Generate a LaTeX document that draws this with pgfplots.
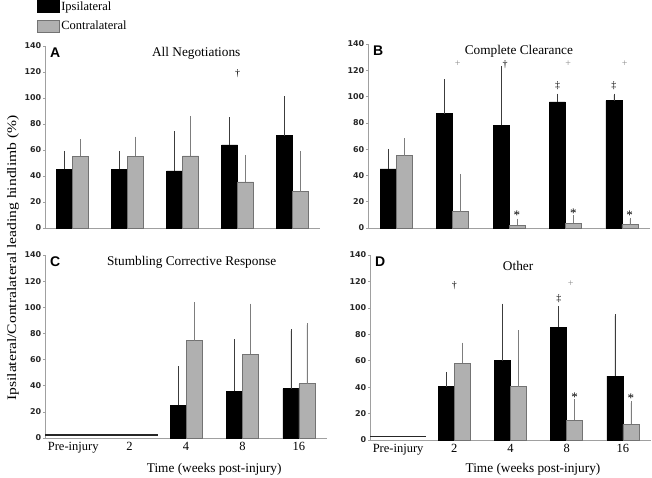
\documentclass[border=0pt]{standalone}
\usepackage{pgfplots}
\pgfplotsset{compat=1.18}
\usepackage{pgfplotstable}
\usepackage{graphicx}
\usepackage{fontspec}
\setmainfont{Liberation Serif}
\newfontfamily\sansb{Liberation Sans}
\newfontfamily\dejab{DejaVu Sans}
\definecolor{bargray}{RGB}{176,176,176}
\definecolor{edgegray}{RGB}{115,115,115}
\definecolor{axgray}{RGB}{160,160,160}
\definecolor{errblack}{RGB}{60,60,60}
\definecolor{errgray}{RGB}{125,125,125}
\definecolor{plusgray}{RGB}{140,140,140}

% x, ipsilateral mean, error, contralateral mean, error
\pgfplotstableread{
x i ie c ce
0 45 13 55 12
1 45 13 55 14
2 44 29 55.5 29.5
3 64 20 35.5 19.5
4 71 29 28 30
}\dataA
\pgfplotstableread{
x i ie c ce
0 45 14 55 12
1 87 25 12.5 27.5
2 78 44 2 4
3 96 5 3.5 5
4 97 4 2.5 4
}\dataB
\pgfplotstableread{
x i ie c ce
2 25 28.5 74.5 28
3 35.6 38.7 64 37.5
4 37.7 44.3 41.5 45
}\dataC
\pgfplotstableread{
x i ie c ce
1 40.3 10 58 14.4
2 60 42 40.3 41.7
3 85.3 14.7 15 14.5
4 48.4 45.6 11.9 16.1
}\dataD

\pgfplotsset{
 base/.style={
  anchor=south west,
  scale only axis,
  ymin=0, ymax=140,
  xmin=-0.5, xmax=4.5,
  clip=false,
 },
 panel/.style={
  base,
  ytick={0,20,...,140},
  axis x line*=bottom, axis y line*=left,
  axis line style={axgray, line width=0.7pt, -},
  tick align=outside,
  major tick length=2pt,
  xtick style={draw=none},
  ytick style={axgray, line width=0.5pt},
  yticklabel style={font=\dejab\bfseries\fontsize{8}{9}\selectfont, text=black!85, inner sep=1.5pt},
  xticklabel style={font=\fontsize{12.5}{14}\selectfont, inner sep=2pt},
  /pgf/number format/assume math mode=true,
  ybar=0pt, bar width=16pt,
 },
 ipsi/.style={fill=black, draw=black, line width=0.5pt,
   error bars/y dir=plus, error bars/y explicit,
   error bars/error bar style={line width=0.6pt, errblack},
   error bars/error mark options={line width=0.6pt, errblack, mark size=1.6pt}},
 contra/.style={fill=bargray, draw=edgegray, line width=0.6pt,
   error bars/y dir=plus, error bars/y explicit,
   error bars/error bar style={line width=0.6pt, errgray},
   error bars/error mark options={line width=0.6pt, errgray, mark size=1.6pt}},
}
\tikzset{
 letter/.style={font=\sansb\bfseries\fontsize{14}{15}\selectfont, anchor=north west, inner sep=0pt},
 ptitle/.style={font=\fontsize{13.3}{15}\selectfont, anchor=north, inner sep=0pt},
 sig/.style={font=\fontsize{10}{11}\selectfont, inner sep=0pt},
 star/.style={font=\fontsize{13}{14}\selectfont, inner sep=0pt},
 xlab/.style={font=\fontsize{13.3}{15}\selectfont, inner sep=0pt},
}

\begin{document}
\begin{tikzpicture}
\useasboundingbox (0,0) rectangle (652pt,478pt);

% ---------- Panel A ----------
\begin{axis}[panel, at={(45pt,250pt)}, width=275pt, height=182pt, xtick=\empty]
\addplot[ipsi] table[x=x, y=i, y error=ie] {\dataA};
\addplot[contra] table[x=x, y=c, y error=ce] {\dataA};
\node[letter] at (rel axis cs:0,1) [xshift=5pt, yshift=-2pt] {A};
\node[ptitle] at (rel axis cs:0.55,1) [yshift=-1pt] {All Negotiations};
\node[sig] at (axis cs:3,119) {\textdagger};
\end{axis}
% legend (overlay axis)
\begin{axis}[base, at={(45pt,250pt)}, width=275pt, height=182pt, hide axis,
  legend image code/.code={\draw[#1, line width=0.8pt] (0pt,-6.2pt) rectangle (22pt,6.2pt);},
  legend style={at={(rel axis cs:0,1)}, anchor=north west, xshift=-8pt, yshift=46pt,
    draw=none, fill=none, inner sep=0pt, outer sep=0pt, row sep=6.5pt,
    font=\fontsize{12.5}{13}\selectfont, nodes={inner sep=1.5pt}},
  legend cell align=left]
\addlegendimage{fill=black, draw=black}
\addlegendentry{Ipsilateral}
\addlegendimage{fill=bargray, draw=edgegray}
\addlegendentry{Contralateral}
\end{axis}

% ---------- Panel B ----------
\begin{axis}[panel, at={(368pt,250pt)}, width=282pt, height=184pt, xtick=\empty]
\addplot[ipsi] table[x=x, y=i, y error=ie] {\dataB};
\addplot[contra] table[x=x, y=c, y error=ce] {\dataB};
\node[letter] at (rel axis cs:0,1) [xshift=5pt, yshift=-2pt] {B};
\node[ptitle] at (rel axis cs:0.535,1) [yshift=-1pt] {Complete Clearance};
\node[sig, text=plusgray] at (axis cs:1.09,125) {+};
\node[sig] at (axis cs:1.93,124) {\textdagger};
\node[sig, text=plusgray] at (axis cs:3.05,125) {+};
\node[sig, text=plusgray] at (axis cs:4.05,125) {+};
\node[sig] at (axis cs:2.86,108) {\textdaggerdbl};
\node[sig] at (axis cs:3.86,108) {\textdaggerdbl};
\node[star] at (axis cs:2.14,10) {*};
\node[star] at (axis cs:3.14,11) {*};
\node[star] at (axis cs:4.14,10) {*};
\end{axis}

% ---------- Panel C ----------
\begin{axis}[panel, at={(45pt,40pt)}, width=282pt, height=183pt,
  xtick={0,...,4}, xticklabels={Pre-injury,2,4,8,16}]
\addplot[ipsi] table[x=x, y=i, y error=ie] {\dataC};
\addplot[contra] table[x=x, y=c, y error=ce] {\dataC};
\node[letter] at (rel axis cs:0,1) [xshift=5pt, yshift=-2pt] {C};
\node[ptitle] at (rel axis cs:0.52,1) [yshift=-1pt] {Stumbling Corrective Response};
\node[xlab] at (rel axis cs:0.6,0) [yshift=-31pt] {Time (weeks post-injury)};
\end{axis}
\begin{axis}[base, at={(45pt,40pt)}, width=282pt, height=183pt, hide axis]
\addplot[black!85, line width=1.6pt] coordinates {(-0.5,2.5) (1.5,2.5)};
\end{axis}

% ---------- Panel D ----------
\begin{axis}[panel, at={(370pt,38pt)}, width=281pt, height=185pt,
  xtick={0,...,4}, xticklabels={Pre-injury,2,4,8,16}]
\addplot[ipsi] table[x=x, y=i, y error=ie] {\dataD};
\addplot[contra] table[x=x, y=c, y error=ce] {\dataD};
\node[letter] at (rel axis cs:0,1) [xshift=5pt, yshift=-2pt] {D};
\node[ptitle] at (rel axis cs:0.527,1) [yshift=-6pt] {Other};
\node[sig] at (axis cs:1,117) {\textdagger};
\node[sig] at (axis cs:2.86,107) {\textdaggerdbl};
\node[sig, text=plusgray] at (axis cs:3.07,118.6) {+};
\node[star] at (axis cs:3.14,32) {*};
\node[star] at (axis cs:4.14,31.5) {*};
\node[xlab] at (rel axis cs:0.58,0) [yshift=-29pt] {Time (weeks post-injury)};
\end{axis}
\begin{axis}[base, at={(370pt,38pt)}, width=281pt, height=185pt, hide axis]
\addplot[black!85, line width=1.6pt] coordinates {(-0.5,2.5) (0.5,2.5)};
\end{axis}

% ---------- shared y label ----------
\node[rotate=90, font=\fontsize{13}{15}\selectfont, inner sep=0pt] at (13pt,220pt)
  {\scalebox{1.2}[1]{Ipsilateral/Contralateral leading hindlimb (\%)}};
\end{tikzpicture}
\end{document}
